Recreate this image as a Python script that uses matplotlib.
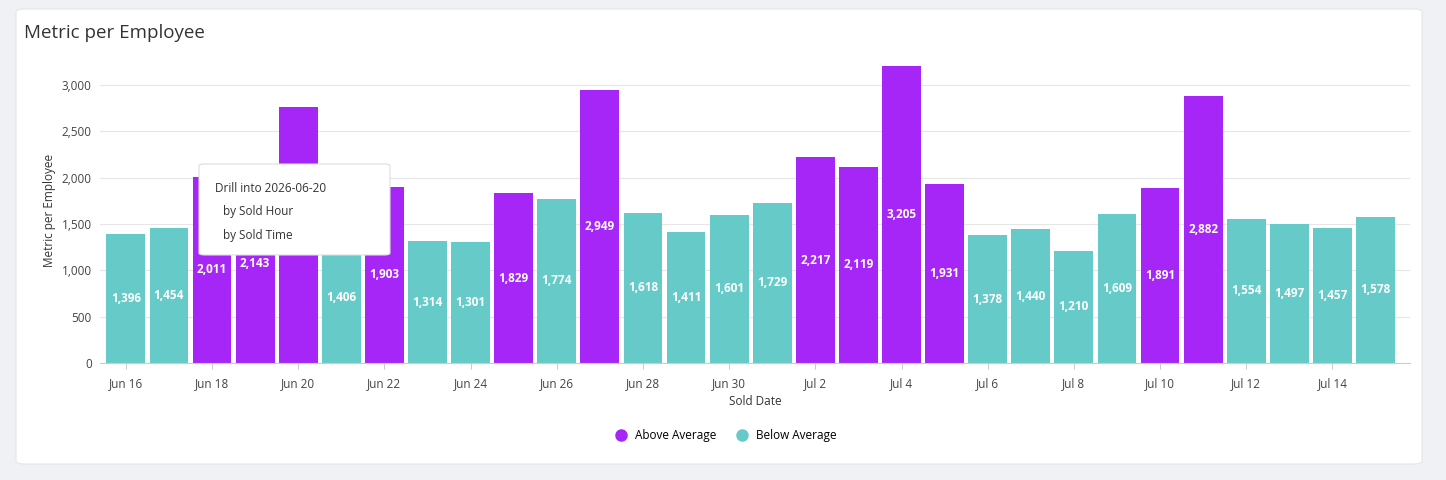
import matplotlib
matplotlib.use("Agg")
import matplotlib.pyplot as plt
from matplotlib.patches import FancyBboxPatch
from matplotlib.lines import Line2D

dates = ["Jun 16","Jun 17","Jun 18","Jun 19","Jun 20","Jun 21","Jun 22","Jun 23","Jun 24","Jun 25",
         "Jun 26","Jun 27","Jun 28","Jun 29","Jun 30","Jul 1","Jul 2","Jul 3","Jul 4","Jul 5",
         "Jul 6","Jul 7","Jul 8","Jul 9","Jul 10","Jul 11","Jul 12","Jul 13","Jul 14","Jul 15"]
values = [1396,1454,2011,2143,2760,1406,1903,1314,1301,1829,
          1774,2949,1618,1411,1601,1729,2217,2119,3205,1931,
          1378,1440,1210,1609,1891,2882,1554,1497,1457,1578]
above = [v > 1800 for v in values]
PURPLE = "#A526F7"
TEAL = "#66CBC8"
plt.rcParams['font.family'] = ['Open Sans', 'DejaVu Sans']

fig = plt.figure(figsize=(14.46, 4.8), dpi=100)
fig.patch.set_facecolor("#F0F1F4")
card = FancyBboxPatch((16/1446, 16/480), 1406/1446, 455/480, boxstyle="round,pad=0,rounding_size=0.006",
                      transform=fig.transFigure, facecolor="white", edgecolor="#E3E5EA", lw=0.8, zorder=-5)
fig.patches.append(card)
fig.text(24/1446, 1-33/480, "Metric per Employee", fontsize=13.5, color="#333", va="center")

ax = fig.add_axes([100/1446, 0.244, 1310/1446, 0.637])
ax.set_zorder(2)
ax.patch.set_alpha(0)
x = list(range(len(values)))
cols = [PURPLE if a else TEAL for a in above]
ax.bar(x, values, width=0.9, color=cols, zorder=2)
for xi, v in zip(x, values):
    ax.text(xi, v/2, f"{v:,}", ha="center", va="center", color="white", fontsize=8.5, fontweight="bold", zorder=3)
ax.set_ylim(0, 3300)
ax.set_xlim(-0.6, len(values)-0.2)
ax.set_yticks(range(0, 3001, 500))
ax.set_yticklabels([f"{t:,}" for t in range(0, 3001, 500)], fontsize=8.5, color="#444")
ax.set_xticks(x[::2])
ax.set_xticklabels(dates[::2], fontsize=8.5, color="#444")
ax.grid(axis="y", color="#E6E6E6", lw=0.8, zorder=0)
for s in ["top", "right", "left"]:
    ax.spines[s].set_visible(False)
ax.spines["bottom"].set_color("#CCCCCC")
ax.tick_params(length=0, pad=6)
ax.tick_params(axis="x", length=4, color="#CCCCCC")
ax.set_ylabel("Metric per Employee", fontsize=8.5, color="#333")
ax.set_xlabel("Sold Date", fontsize=8.5, color="#333", labelpad=4)

# tooltip
tip = FancyBboxPatch((199/1446, 1-255/480), 191/1446, 91/480, boxstyle="round,pad=0,rounding_size=0.004",
                     transform=fig.transFigure, facecolor="white", edgecolor="#DDDDDD", lw=0.8, zorder=10)
fig.patches.append(tip)
fig.text(215/1446, 1-188/480, "Drill into 2026-06-20", fontsize=8.5, color="#333", va="center", zorder=11)
fig.text(223/1446, 1-212/480, "by Sold Hour", fontsize=8.5, color="#333", va="center", zorder=11)
fig.text(223/1446, 1-236/480, "by Sold Time", fontsize=8.5, color="#333", va="center", zorder=11)

handles = [Line2D([], [], marker="o", ls="", color=PURPLE, markersize=8, label="Above Average"),
           Line2D([], [], marker="o", ls="", color=TEAL, markersize=8, label="Below Average")]
fig.legend(handles=handles, loc="center", bbox_to_anchor=(0.5, 1-436/480), ncol=2, frameon=False,
           fontsize=8.5, handletextpad=0.2, columnspacing=1.2)
fig.savefig("out.png", dpi=100, facecolor=fig.get_facecolor())
